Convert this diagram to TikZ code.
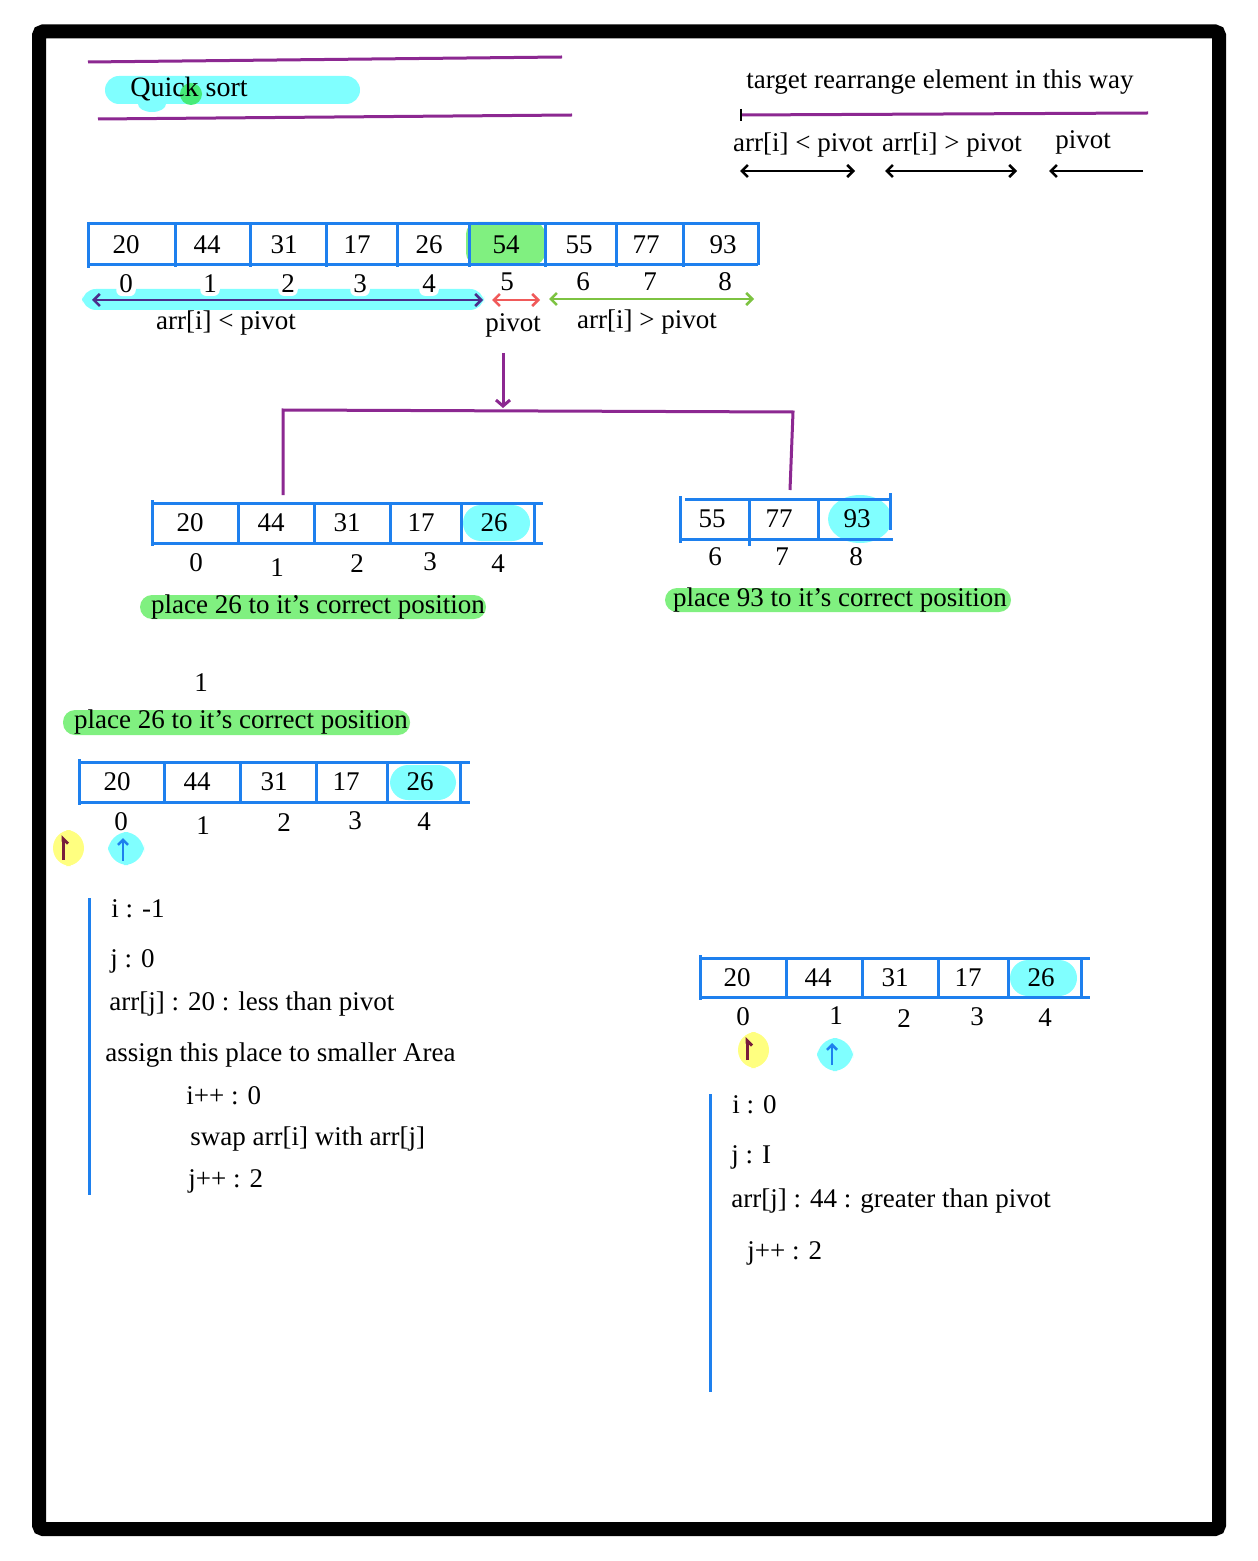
\documentclass[tikz,border=0pt]{standalone}
\usepackage{fontspec}
\setmainfont{Liberation Serif}
\usetikzlibrary{arrows.meta}
\definecolor{bl}{RGB}{30,128,238}
\definecolor{cy}{RGB}{128,255,255}
\definecolor{gr}{RGB}{128,240,128}
\definecolor{gd}{RGB}{70,235,120}
\definecolor{pu}{RGB}{140,40,145}
\definecolor{ye}{RGB}{255,255,128}
\definecolor{mr}{RGB}{120,30,60}
\definecolor{ind}{RGB}{75,45,140}
\definecolor{rd}{RGB}{240,90,90}
\definecolor{lg}{RGB}{125,195,65}
\begin{document}
\begin{tikzpicture}[x=0.5pt,y=-0.5pt,
  arrline/.style={draw=bl,line width=1.5pt},
  val/.style={font=\fontsize{13.5}{15}\selectfont, inner sep=0pt},
  idx/.style={font=\fontsize{13.5}{15}\selectfont, inner sep=0pt},
  idxw/.style={font=\fontsize{13.5}{15}\selectfont, inner sep=1.5pt, fill=white, rounded corners=3pt},
  lbl/.style={font=\fontsize{13.5}{16}\selectfont, inner sep=0pt},
  body/.style={font=\fontsize{13.5}{16}\selectfont, inner sep=0pt, anchor=base west},
  purp/.style={draw=pu,line width=1.5pt},
  barb/.style={>={Straight Barb[length=3pt,width=6pt]}},
  upar/.style={line width=1.3pt,-{Straight Barb[length=2.5pt,width=5pt]}},
  uparh/.style={line width=1.5pt,-{Straight Barb[right,length=2.5pt,width=5pt]}}
]
\useasboundingbox (0,0) rectangle (1257,1561);
\fill[white] (0,0) rectangle (1257,1561);
% frame
\draw[line width=7pt, rounded corners=2pt] (39,31.5) rectangle (1219,1529);

% ---------- title ----------
\draw[purp] (88,62) -- (562,57);
\draw[purp] (98,119) -- (572,115);
\fill[cy, rounded corners=7pt] (105,76) rectangle (360,104);
\fill[cy] (152,104) ellipse (14 and 8);
\fill[gd] (191,94) circle (11);
\node[lbl, font=\fontsize{14}{16}\selectfont] (title) at (189,89) {Quick sort};

% ---------- legend ----------
\node[lbl] (tgt) at (940,82) {target rearrange element in this way};
\draw[purp] (741,115) -- (1148,113);
\draw[line width=1.3pt] (741,109) -- (741,121);
\node[lbl] (lgless) at (803,145) {arr[i] < pivot};
\node[lbl] (lggrt) at (952,145) {arr[i] > pivot};
\node[lbl] (lgpiv) at (1083,142) {pivot};
\coordinate (la1) at (740,171); \coordinate (la2) at (855,171);
\coordinate (lb1) at (885,171); \coordinate (lb2) at (1017,171);
\coordinate (lc1) at (1143,171); \coordinate (lc2) at (1049,171);
\draw[barb,<->,line width=1.3pt] (la1) -- (la2);
\draw[barb,<->,line width=1.3pt] (lb1) -- (lb2);
\draw[barb,->,line width=1.3pt] (lc1) -- (lc2);

% ---------- main array ----------
\fill[gr, rounded corners=6pt] (466,222) rectangle (545,265);
\draw[arrline] (88,224) -- (758,224);
\draw[arrline] (88,265) -- (758,265);
\draw[arrline] (88,222) -- (88,268);
\foreach \x in {175,250,326,397,469,545,616,683}
  \draw[arrline] (\x,224) -- (\x,267);
\draw[arrline] (758,222) -- (758,265);
\foreach \v/\x [count=\i from 0] in {20/126,44/207,31/284,17/357,26/429,54/506,55/579,77/646,93/723}
  \node[val] (m\i) at (\x,245) {\v};
% highlight under indices
\fill[cy, rounded corners=7pt] (82,289) rectangle (484,310);
\foreach \v/\x in {0/126,1/210,2/288,3/360,4/429}
  \node[idxw] (mi\v) at (\x,284) {\v};
\foreach \v/\x in {5/507,6/583,7/650,8/725}
  \node[idx] (mi\v) at (\x,282) {\v};
\coordinate (pa1) at (92,300); \coordinate (pa2) at (483,300);
\coordinate (ra1) at (492,300); \coordinate (ra2) at (540,300);
\coordinate (ga1) at (549,299); \coordinate (ga2) at (754,299);
\draw[barb,<->,ind,line width=1.3pt] (pa1) -- (pa2);
\draw[barb,<->,rd,line width=1.3pt] (ra1) -- (ra2);
\draw[barb,<->,lg,line width=1.3pt] (ga1) -- (ga2);
\node[lbl] (mless) at (226,323) {arr[i] < pivot};
\node[lbl] (mpiv) at (513,325) {pivot};
\node[lbl] (mgrt) at (647,322) {arr[i] > pivot};

% ---------- split ----------
\coordinate (dS) at (503,353); \coordinate (dE) at (503,408);
\draw[purp,-{Straight Barb[length=3pt,width=7pt]}] (dS) -- (dE);
\coordinate (bL) at (283,410); \coordinate (bR) at (793,412);
\coordinate (bLd) at (283,495); \coordinate (bRd) at (790,490);
\draw[purp] (bLd) -- (bL) -- (bR) -- (bRd);

% ---------- left sub-array ----------
\fill[cy, rounded corners=9pt] (463,505) rectangle (530,541);
\draw[arrline] (152,503) -- (543,503);
\draw[arrline] (152,543) -- (543,543);
\draw[arrline] (152,500) -- (152,546);
\foreach \x in {238,314,390,461,534}
  \draw[arrline] (\x,503) -- (\x,543);
\foreach \v/\x [count=\i from 0] in {20/190,44/271,31/347,17/421,26/494}
  \node[val] (l\i) at (\x,523) {\v};
\foreach \v/\x/\y in {0/196/563,1/277/568,2/357/564,3/430/562,4/498/564}
  \node[idx] (li\v) at (\x,\y) {\v};
\fill[gr, rounded corners=6pt] (140,595) rectangle (486,619);
\node[lbl] (lplace) at (318,607) {place 26 to it’s correct position};

% ---------- right sub-array ----------
\fill[cy] (860,519) ellipse (32 and 24);
\draw[arrline] (685,499) -- (890,499);
\draw[arrline] (680,539) -- (893,539);
\draw[arrline] (680,496) -- (680,543);
\draw[arrline] (749,499) -- (749,546);
\draw[arrline] (818,499) -- (818,539);
\draw[arrline] (890,493) -- (890,530);
\foreach \v/\x [count=\i from 6] in {55/712,77/779,93/857}
  \node[val] (r\i) at (\x,519) {\v};
\foreach \v/\x in {6/715,7/782,8/856}
  \node[idx] (ri\v) at (\x,557) {\v};
\fill[gr, rounded corners=6pt] (665,588) rectangle (1011,612);
\node[lbl] (rplace) at (840,600) {place 93 to it’s correct position};

% ---------- step 1 ----------
\node[idx] (one) at (201,683) {1};
\fill[gr, rounded corners=6pt] (63,710) rectangle (410,735);
\node[lbl] (splace) at (241,722) {place 26 to it’s correct position};

\fill[cy, rounded corners=9pt] (390,765) rectangle (456,800);
\draw[arrline] (79,762) -- (470,762);
\draw[arrline] (79,802) -- (470,802);
\draw[arrline] (79,759) -- (79,805);
\foreach \x in {164,240,316,387,460}
  \draw[arrline] (\x,762) -- (\x,802);
\foreach \v/\x [count=\i from 0] in {20/117,44/197,31/274,17/346,26/420}
  \node[val] (a\i) at (\x,782) {\v};
\foreach \v/\x/\y in {0/121/822,1/203/826,2/284/823,3/355/821,4/424/822}
  \node[idx] (ai\v) at (\x,\y) {\v};
\fill[ye, rounded corners=9pt] (53,830) rectangle (84,866);
\fill[cy, rounded corners=10pt] (108,832) rectangle (144,865);
\coordinate (ia1) at (63,860); \coordinate (ia2) at (63,835);
\coordinate (ja1) at (123,861); \coordinate (ja2) at (123,838);
\draw[uparh,mr] (ia1) -- (ia2);
\draw[upar,bl] (ja1) -- (ja2);

\coordinate (v1t) at (89,898); \coordinate (v1b) at (89,1195);
\draw[arrline] (v1t) -- (v1b);
\node[body] (t1) at (111,917) {i : -1};
\node[body] (t2) at (110,967) {j : 0};
\node[body] (t3) at (109,1010) {arr[j] : 20 : less than pivot};
\node[body] (t4) at (105,1061) {assign this place to smaller Area};
\node[body] (t5) at (186,1104) {i++ : 0};
\node[body] (t6) at (190,1145) {swap arr[i] with arr[j]};
\node[body] (t7) at (188,1187) {j++ : 2};

% ---------- step 2 ----------
\fill[cy, rounded corners=9pt] (1010,960) rectangle (1077,996);
\draw[arrline] (700,958) -- (1090,958);
\draw[arrline] (700,997) -- (1090,997);
\draw[arrline] (700,955) -- (700,1000);
\foreach \x in {786,862,938,1008,1081}
  \draw[arrline] (\x,958) -- (\x,997);
\foreach \v/\x [count=\i from 0] in {20/737,44/818,31/895,17/968,26/1041}
  \node[val] (b\i) at (\x,978) {\v};
\foreach \v/\x/\y in {0/743/1017,1/836/1016,2/904/1019,3/977/1017,4/1045/1018}
  \node[idx] (bi\v) at (\x,\y) {\v};
\fill[ye, rounded corners=9pt] (738,1032) rectangle (769,1068);
\fill[cy, rounded corners=10pt] (817,1038) rectangle (853,1071);
\coordinate (ib1) at (747,1060); \coordinate (ib2) at (747,1037);
\coordinate (jb1) at (832,1065); \coordinate (jb2) at (832,1043);
\draw[uparh,mr] (ib1) -- (ib2);
\draw[upar,bl] (jb1) -- (jb2);

\coordinate (v2t) at (710,1094); \coordinate (v2b) at (710,1392);
\draw[arrline] (v2t) -- (v2b);
\node[body] (u1) at (732,1113) {i : 0};
\node[body] (u2) at (731,1163) {j : I};
\node[body] (u3) at (731,1207) {arr[j] : 44 : greater than pivot};
\node[body] (u4) at (747,1259) {j++ : 2};
\end{tikzpicture}
\end{document}
